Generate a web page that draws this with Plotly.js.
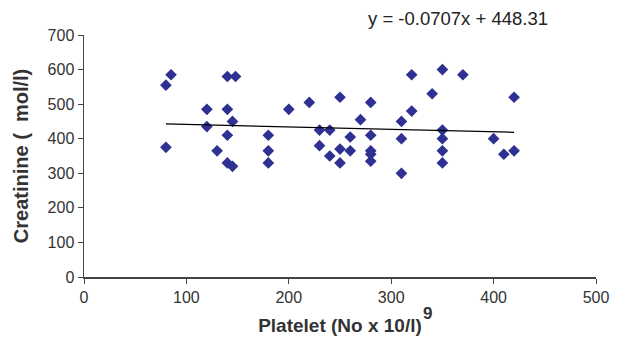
<!DOCTYPE html>
<html>
<head>
<meta charset="utf-8">
<script src="https://cdn.plot.ly/plotly-3.0.1.min.js"></script>
<style>html,body{margin:0;padding:0;background:#fff;}#chart{width:623px;height:345px;}</style>
</head>
<body>
<div id="chart"></div>
<script>
var platelet = [85, 80, 140, 148, 120, 140, 145, 120, 140, 80, 130, 140, 145,
  180, 180, 180, 200, 220, 230, 240, 230, 240, 250, 250, 250, 260, 260, 270,
  280, 280, 280, 280, 280, 310, 310, 310, 320, 320, 340,
  350, 370, 420, 350, 350, 350, 350, 400, 410, 420];
var creatinine = [585, 555, 580, 580, 485, 485, 450, 435, 410, 375, 365, 330, 320,
  410, 365, 330, 485, 505, 425, 425, 380, 350, 520, 370, 330, 405, 365, 455,
  505, 410, 365, 355, 335, 450, 400, 300, 585, 480, 530,
  600, 585, 520, 425, 400, 365, 330, 400, 355, 365];
var slope = -0.0707;
var intercept = 448.31;
var equationText = 'y = -0.0707x + 448.31';
var xTicks = [0, 100, 200, 300, 400, 500];
var yTicks = [0, 100, 200, 300, 400, 500, 600, 700];

var xmin = Math.min.apply(null, platelet), xmax = Math.max.apply(null, platelet);
var trendX = [xmin, xmax];
var trendY = trendX.map(function(v){ return slope * v + intercept; });

var FAM = 'Liberation Sans, Arial, sans-serif';
var data = [
  {x: platelet, y: creatinine, type: 'scatter', mode: 'markers',
   marker: {symbol: 'diamond', size: 9, color: '#2e3192'}, hoverinfo: 'none'},
  {x: trendX, y: trendY, type: 'scatter', mode: 'lines',
   line: {color: '#000', width: 1.2}, hoverinfo: 'none'}
];
var axisFont = {family: FAM, size: 16, color: '#333'};
var layout = {
  width: 623, height: 345,
  margin: {l: 84, r: 27, t: 35, b: 68},
  showlegend: false,
  paper_bgcolor: '#fff', plot_bgcolor: '#fff',
  font: {family: FAM, color: '#222'},
  xaxis: {range: [0, 500], tickvals: xTicks, showgrid: false, zeroline: false,
    showline: true, linecolor: '#444', linewidth: 1.5, ticks: 'outside', ticklen: 5,
    tickcolor: '#444', tickfont: axisFont,
    title: {text: 'Platelet (No x 10/l)', font: {family: FAM, size: 19, color: '#333', weight: 'bold'}, standoff: 14}},
  yaxis: {range: [0, 700], tickvals: yTicks, showgrid: false, zeroline: false,
    showline: true, linecolor: '#444', linewidth: 1.5, ticks: 'outside', ticklen: 5,
    tickcolor: '#444', tickfont: axisFont,
    title: {text: 'Creatinine (  mol/l)', font: {family: FAM, size: 20, color: '#333', weight: 'bold'}, standoff: 13}},
  annotations: [
    {text: equationText, xref: 'paper', yref: 'paper', x: 0.91, y: 1.0, xanchor: 'right', yanchor: 'bottom',
     yshift: 4, showarrow: false, font: {family: FAM, size: 18.5, color: '#222'}},
    {text: '<b>9</b>', xref: 'paper', yref: 'paper', x: 0.658, y: -0.15, xanchor: 'left', yanchor: 'middle',
     showarrow: false, font: {family: FAM, size: 17, color: '#333'}}
  ]
};
Plotly.newPlot('chart', data, layout, {staticPlot: true, displayModeBar: false});
</script>
</body>
</html>
